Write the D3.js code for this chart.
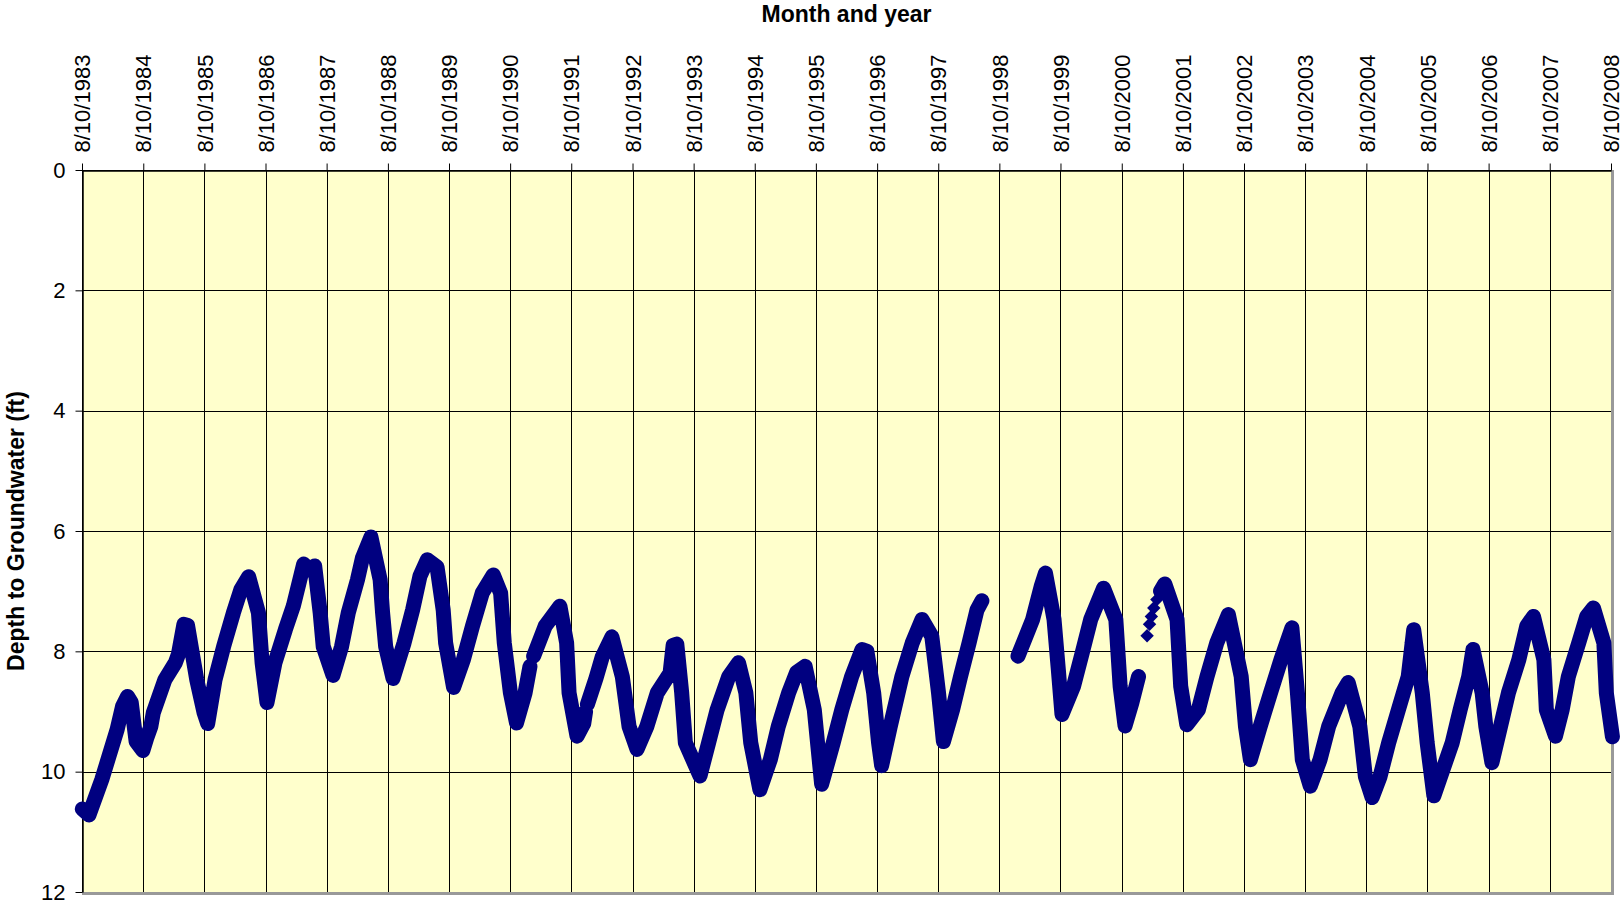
<!DOCTYPE html>
<html lang="en">
<head>
<meta charset="UTF-8">
<title>Depth to Groundwater</title>
<script src="https://cdn.jsdelivr.net/npm/d3@7"></script>
<style>
  body { margin: 0; background: #fff; }
  text { font-family: Arial, "Liberation Sans", sans-serif; }
</style>
</head>
<body>
<script>
// decimal year of each reading, null depth = gap in the record
const years = [
  1983.61, 1983.72, 1983.93, 1984.18, 1984.27, 1984.35, 1984.41, 1984.49, 1984.60, 1984.66,
  1984.73, 1984.77, 1984.96, 1985.13, 1985.18, 1985.27, 1985.33, 1985.48, 1985.60, 1985.66,
  1985.78, 1985.92, 1986.08, 1986.20, 1986.33, 1986.49, 1986.55, 1986.63, 1986.76, 1986.93,
  1987.06, 1987.23, 1987.31, 1987.41, 1987.50, 1987.55, 1987.71, 1987.85, 1987.96, 1988.11,
  1988.19, 1988.33, 1988.48, 1988.52, 1988.57, 1988.69, 1988.87, 1989.01, 1989.13, 1989.25,
  1989.41, 1989.51, 1989.55, 1989.68, 1989.84, 1989.99, 1990.15, 1990.33, 1990.45, 1990.51,
  1990.61, 1990.71, 1990.85, 1990.93, 1990.96,
  1990.99, 1991.18, 1991.42, 1991.53, 1991.57, 1991.70, 1991.81, 1991.84, 1991.855,
  1991.87, 1992.01, 1992.11, 1992.27, 1992.44, 1992.55, 1992.68, 1992.84, 1993.01, 1993.22,
  1993.27, 1993.33, 1993.41, 1993.47, 1993.71, 1993.85, 1993.99, 1994.18, 1994.34, 1994.46,
  1994.54, 1994.69, 1994.86, 1994.99, 1995.16, 1995.29, 1995.43, 1995.58, 1995.66, 1995.70,
  1995.89, 1996.03, 1996.19, 1996.36, 1996.44, 1996.55, 1996.63, 1996.68, 1996.82, 1997.01,
  1997.18, 1997.34, 1997.50, 1997.61, 1997.69, 1997.84, 1997.97, 1998.11, 1998.24, 1998.32,
  1998.60,
  1998.91, 1999.15, 1999.29, 1999.36, 1999.50, 1999.57, 1999.63, 1999.82, 1999.96, 2000.10,
  2000.31, 2000.51, 2000.58, 2000.66, 2000.77, 2000.88, 2001.10,
  2001.24, 2001.31, 2001.51, 2001.57, 2001.67, 2001.86, 2002.00, 2002.16, 2002.35, 2002.56,
  2002.63, 2002.71, 2002.87, 2003.04, 2003.21, 2003.39, 2003.48, 2003.56, 2003.69, 2003.85,
  2003.99, 2004.21, 2004.31, 2004.50, 2004.59, 2004.70, 2004.83, 2004.97, 2005.13, 2005.29,
  2005.38, 2005.52, 2005.60, 2005.71, 2006.01, 2006.14, 2006.28, 2006.35, 2006.50, 2006.56,
  2006.66, 2006.80, 2006.93, 2007.10, 2007.23, 2007.34, 2007.51, 2007.55, 2007.70, 2007.81,
  2007.91, 2008.08, 2008.21, 2008.32, 2008.49, 2008.53, 2008.63
];
const depths = [
  10.62, 10.72, 10.13, 9.30, 8.91, 8.75, 8.85, 9.50, 9.65, 9.45,
  9.25, 9.02, 8.47, 8.19, 8.05, 7.55, 7.57, 8.47, 9.02, 9.20,
  8.47, 7.92, 7.36, 6.98, 6.76, 7.36, 8.19, 8.85, 8.19, 7.64,
  7.25, 6.55, 6.65, 6.58, 7.36, 7.92, 8.40, 7.92, 7.36, 6.81,
  6.45, 6.10, 6.81, 7.36, 7.92, 8.45, 7.86, 7.31, 6.75, 6.48,
  6.60, 7.31, 7.86, 8.60, 8.14, 7.58, 7.03, 6.73, 7.03, 7.86,
  8.69, 9.19, 8.69, 8.25, null,
  8.08, 7.58, 7.25, 7.86, 8.69, 9.41, 9.20, 9.00, null,
  8.88, 8.45, 8.10, 7.76, 8.42, 9.25, 9.63, 9.25, 8.69, 8.36,
  7.90, 7.88, 8.69, 9.52, 10.07, 9.52, 8.97, 8.42, 8.19, 8.69,
  9.52, 10.30, 9.80, 9.25, 8.69, 8.35, 8.25, 8.97, 9.80, 10.21,
  9.52, 8.97, 8.42, 7.97, 8.00, 8.69, 9.52, 9.90, 9.25, 8.42,
  7.86, 7.47, 7.75, 8.69, 9.50, 8.97, 8.42, 7.86, 7.31, 7.16,
  null,
  8.08, 7.47, 6.92, 6.70, 7.47, 8.30, 9.05, 8.58, 8.03, 7.47,
  6.95, 7.47, 8.58, 9.24, 8.86, 8.42, null,
  7.00, 6.88, 7.47, 8.58, 9.22, 8.97, 8.42, 7.86, 7.39, 8.42,
  9.25, 9.80, 9.25, 8.69, 8.14, 7.61, 8.69, 9.80, 10.24, 9.80,
  9.25, 8.69, 8.52, 9.25, 10.08, 10.43, 10.08, 9.52, 8.97, 8.42,
  7.64, 8.69, 9.52, 10.40, 9.52, 8.97, 8.42, 7.97, 8.69, 9.25,
  9.85, 9.25, 8.69, 8.14, 7.58, 7.42, 8.14, 8.97, 9.41, 8.97,
  8.42, 7.86, 7.42, 7.28, 7.86, 8.69, 9.42
];
// single readings drawn on their own
const loneYears = [2001.02, 2001.06, 2001.09, 2001.13, 2001.18, 2005.33, 2005.34];
const loneDepths = [7.74, 7.55, 7.42, 7.28, 7.14, 8.05, 7.85];

const tickYears = d3.range(1983, 2009);   // ticks on 8/10 of each year
const depthTicks = [0, 2, 4, 6, 8, 10, 12];

const W = 1620, H = 904;
const pLeft = 82, pRight = 1611, pTop = 170, pBottom = 892;

// decimal year -> Date
function toDate(yv) {
  const yr = Math.floor(yv);
  const a = new Date(yr, 0, 1), b = new Date(yr + 1, 0, 1);
  return new Date(+a + (yv - yr) * (b - a));
}

const data = years.map((yv, i) => ({ date: toDate(yv), depth: depths[i] }));
const lone = loneYears.map((yv, i) => ({ date: toDate(yv), depth: loneDepths[i] }));

let svg = d3.select('body').append('svg')
  .attr('width', W).attr('height', H);

let x = d3.scaleTime()
  .domain([new Date(1983, 7, 10), new Date(2008, 7, 10)])
  .range([pLeft, pRight]);

let y = d3.scaleLinear()
  .domain([0, 12])
  .range([pTop, pBottom]);

// plot area
svg.append('rect')
  .attr('x', pLeft).attr('y', pTop)
  .attr('width', pRight - pLeft).attr('height', pBottom - pTop)
  .attr('fill', '#ffffcc');

const tickDates = tickYears.map(yr => new Date(yr, 7, 10));

// grid
svg.append('g').selectAll('line').data(tickDates).enter().append('line')
  .attr('x1', d => Math.round(x(d)) + 0.5).attr('x2', d => Math.round(x(d)) + 0.5)
  .attr('y1', pTop).attr('y2', pBottom)
  .attr('stroke', '#000').attr('stroke-width', 1);
svg.append('g').selectAll('line').data(depthTicks).enter().append('line')
  .attr('x1', pLeft).attr('x2', pRight)
  .attr('y1', d => Math.round(y(d)) + 0.5).attr('y2', d => Math.round(y(d)) + 0.5)
  .attr('stroke', '#000').attr('stroke-width', 1);

// grey shadow right/bottom of the plot area
svg.append('line').attr('x1', pRight + 1.5).attr('x2', pRight + 1.5)
  .attr('y1', pTop).attr('y2', pBottom + 3)
  .attr('stroke', '#999').attr('stroke-width', 3);
svg.append('line').attr('x1', pLeft).attr('x2', pRight + 3)
  .attr('y1', pBottom + 1.5).attr('y2', pBottom + 1.5)
  .attr('stroke', '#999').attr('stroke-width', 3);

// x axis on top
let xAxis = d3.axisTop(x)
  .tickValues(tickDates)
  .tickFormat(d3.timeFormat('%-m/%-d/%Y'))
  .tickSize(7).tickSizeOuter(0);
let gx = svg.append('g').attr('transform', `translate(0,${pTop + 0.5})`).call(xAxis);
gx.attr('font-family', null).attr('font-size', null);
gx.select('.domain').attr('stroke', '#000').attr('stroke-width', 1.5);
gx.selectAll('.tick line').attr('stroke', '#000');
gx.selectAll('.tick text')
  .attr('font-size', 22)
  .attr('fill', '#000')
  .attr('text-anchor', 'start')
  .attr('transform', 'rotate(-90)')
  .attr('x', 18).attr('y', 0).attr('dy', '0.35em');

// y axis on left
let yAxis = d3.axisLeft(y)
  .tickValues(depthTicks)
  .tickSize(7).tickSizeOuter(0).tickPadding(10);
let gy = svg.append('g').attr('transform', `translate(${pLeft + 0.5},0)`).call(yAxis);
gy.attr('font-family', null).attr('font-size', null);
gy.select('.domain').attr('stroke', '#000').attr('stroke-width', 1.5);
gy.selectAll('.tick line').attr('stroke', '#000');
gy.selectAll('.tick text').attr('font-size', 22).attr('fill', '#000');

// series
let line = d3.line()
  .defined(d => d.depth != null)
  .x(d => x(d.date))
  .y(d => y(d.depth));

svg.append('path')
  .datum(data)
  .attr('d', line)
  .attr('fill', 'none')
  .attr('stroke', '#000080')
  .attr('stroke-width', 15)
  .attr('stroke-linejoin', 'round')
  .attr('stroke-linecap', 'round');

svg.append('g').selectAll('path').data(lone).enter().append('path')
  .attr('d', d3.symbol(d3.symbolSquare, 90))
  .attr('transform', d => `translate(${x(d.date)},${y(d.depth)}) rotate(45)`)
  .attr('fill', '#000080');

// titles
svg.append('text')
  .attr('x', (pLeft + pRight) / 2).attr('y', 14)
  .attr('dy', '0.35em')
  .attr('text-anchor', 'middle')
  .attr('font-size', 23).attr('font-weight', 'bold')
  .text('Month and year');

svg.append('text')
  .attr('transform', `translate(16,${(pTop + pBottom) / 2}) rotate(-90)`)
  .attr('dy', '0.35em')
  .attr('text-anchor', 'middle')
  .attr('font-size', 23).attr('font-weight', 'bold')
  .text('Depth to Groundwater (ft)');
</script>
</body>
</html>
